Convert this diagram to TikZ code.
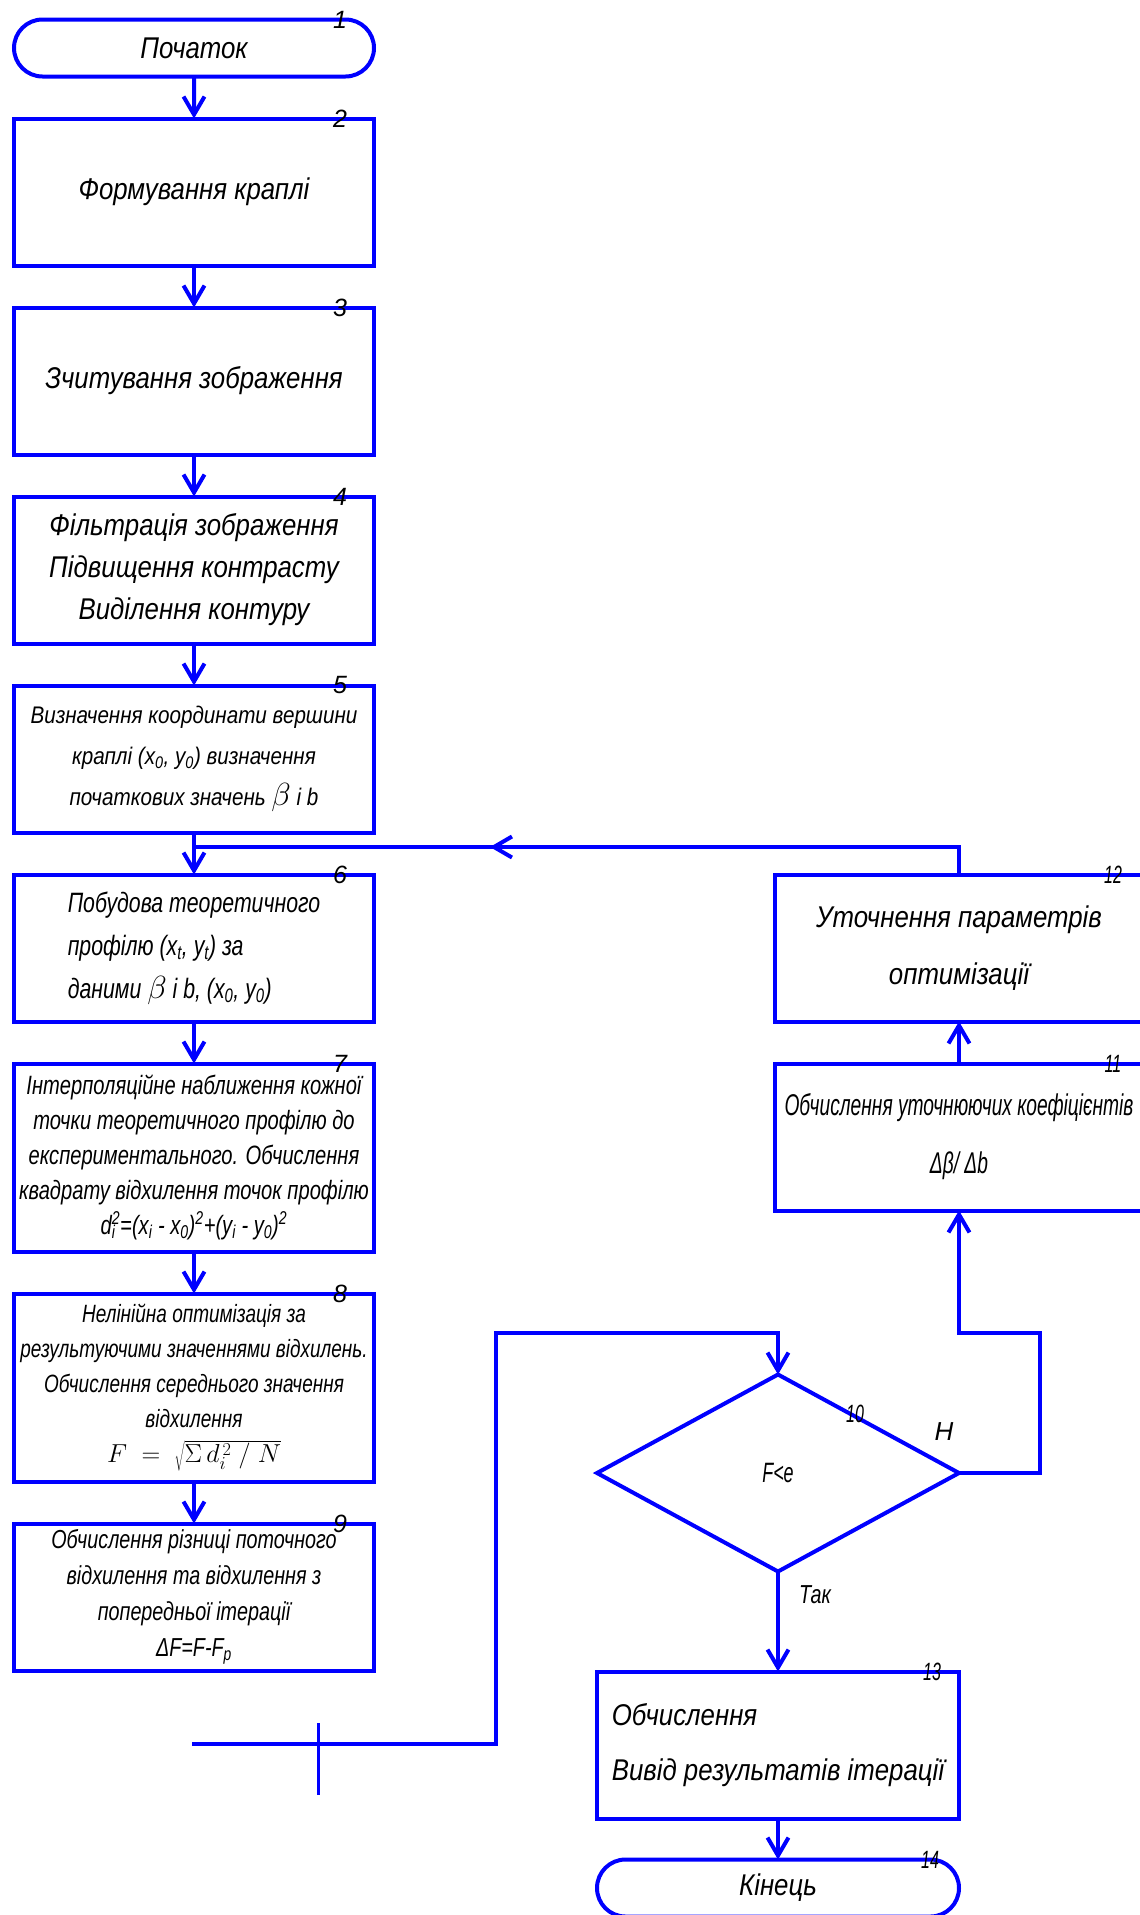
\documentclass[tikz,border=0pt]{standalone}
\usepackage{fix-cm}
\usepackage{fontspec}
\setmainfont{Liberation Sans}
\newfontfamily\widefont[FakeStretch=0.86]{Liberation Sans}
\newfontfamily\narrowfont[FakeStretch=0.76]{Liberation Sans}
\newfontfamily\tightfont[FakeStretch=0.64]{Liberation Sans}
\newcommand{\idxsq}[2]{\rlap{\textsubscript{#1}}\textsuperscript{#2}}
\newcommand{\bigbeta}{{\fontsize{32}{32}\selectfont$\beta$}}
\usetikzlibrary{arrows.meta,positioning,shapes.geometric,shapes.misc}

\begin{document}
\begin{tikzpicture}[x=1pt,y=-1pt,->,>={Straight Barb[length=18pt,width=21pt]},
        line width=4pt,blue,node distance=42pt]
        \tikzstyle{every node}=[inner sep=0pt,outer sep=0pt,text=black]
        \tikzstyle{block}=[rectangle,draw=blue,line width=4pt,minimum width=360pt,minimum height=147pt,align=center]
        \tikzstyle{tall}=[minimum height=188pt]
        \tikzstyle{term}=[rounded rectangle,draw=blue,line width=4pt,minimum width=360pt,minimum height=57pt]
        \tikzstyle{cond}=[diamond,draw=blue,line width=4pt,minimum width=362pt,minimum height=197pt]
        \tikzstyle{bigtxt}=[font=\widefont\fontsize{30}{42}\selectfont\itshape]
        \tikzstyle{numlbl}=[font=\fontsize{25}{25}\selectfont\itshape]
        \tikzstyle{twonum}=[font=\tightfont\fontsize{25}{25}\selectfont\itshape]
        \tikzstyle{wire}=[-]

        \useasboundingbox (0,0) rectangle (1140,1915);
        \clip (0,0) rectangle (1140,1915);

        % main column
        \node[term,bigtxt]              (start) at (194,48)       {Початок};
        \node[block,bigtxt]             (b2) [below=of start]     {Формування краплі};
        \node[block,bigtxt]             (b3) [below=of b2]        {Зчитування зображення};
        \node[block,bigtxt]             (b4) [below=of b3]        {Фільтрація зображення\\ Підвищення контрасту\\ Виділення контуру};
        \node[block,font=\widefont\fontsize{24}{41}\selectfont\itshape]
                                        (b5) [below=of b4]        {Визначення координати вершини\\ краплі (x\textsubscript{0}, y\textsubscript{0}) визначення\\ початкових значень \bigbeta{} і b};
        \node[block,align=left,font=\narrowfont\fontsize{28}{43}\selectfont\itshape]
                                        (b6) [below=of b5]        {Побудова теоретичного\\ профілю (x\textsubscript{t}, y\textsubscript{t}) за\\ даними \bigbeta{} і b, (x\textsubscript{0}, y\textsubscript{0})};
        \node[block,tall,font=\narrowfont\fontsize{26.5}{35}\selectfont\itshape]
                                        (b7) [below=of b6]        {Інтерполяційне наближення кожної\\ точки теоретичного профілю до\\ експериментального. Обчислення\\ квадрату відхилення точок профілю\\ d\idxsq{i}{2}=(x\textsubscript{i} - x\textsubscript{0})\textsuperscript{2}+(y\textsubscript{i} - y\textsubscript{0})\textsuperscript{2}};
        \node[block,tall,font=\narrowfont\fontsize{25}{35}\selectfont\itshape]
                                        (b8) [below=of b7]        {Нелінійна оптимізація за\\ результуючими значеннями відхилень.\\ Обчислення середнього значення\\ відхилення\\ {\fontsize{26}{37}\selectfont $F \;=\; \sqrt{\Sigma\, d_i^{\,2} \;/\; N}$}};
        \node[block,font=\narrowfont\fontsize{26}{36}\selectfont\itshape]
                                        (b9) [below=of b8]        {Обчислення різниці поточного\\ відхилення та відхилення з\\ попередньої ітерації\\ ΔF=F-F\textsubscript{p}};

        % right column
        \node[block,minimum width=368pt,font=\widefont\fontsize{30}{57}\selectfont\itshape]
                                        (b12) [right=401pt of b6] {Уточнення параметрів\\ оптимізації};
        \node[block,minimum width=368pt,font=\tightfont\fontsize{30}{58}\selectfont\itshape]
                                        (b11) [below=of b12]      {Обчислення уточнюючих коефіцієнтів\\ Δβ/ Δb};
        \node[cond,font=\tightfont\fontsize{28}{28}\selectfont\itshape]
                                        (dia) at (778,1473)       {F<e};
        \node[block,minimum width=362pt,align=left,font=\widefont\fontsize{30}{55}\selectfont\itshape]
                                        (b13) [below=100pt of dia] {Обчислення\\ Вивід результатів ітерації};
        \node[term,minimum width=362pt,bigtxt]
                                        (b14) [below=41pt of b13] {Кінець};

        % block numbers
        \node[numlbl] (n1)  at ([xshift=146pt]start.north)     {1};
        \node[numlbl] (n2)  at ([xshift=-34pt]b2.north east)   {2};
        \node[numlbl] (n3)  at ([xshift=-34pt]b3.north east)   {3};
        \node[numlbl] (n4)  at ([xshift=-34pt]b4.north east)   {4};
        \node[numlbl] (n5)  at ([xshift=-34pt]b5.north east)   {5};
        \node[numlbl] (n6)  at ([xshift=-34pt]b6.north east)   {6};
        \node[numlbl] (n7)  at ([xshift=-34pt]b7.north east)   {7};
        \node[numlbl] (n8)  at ([xshift=-34pt]b8.north east)   {8};
        \node[numlbl] (n9)  at ([xshift=-34pt]b9.north east)   {9};
        \node[twonum] (n10) at ([shift={(77,-59)}]dia.center)  {10};
        \node[twonum] (n11) at ([xshift=-30pt]b11.north east)  {11};
        \node[twonum] (n12) at ([xshift=-30pt]b12.north east)  {12};
        \node[twonum] (n13) at ([xshift=-27pt]b13.north east)  {13};
        \node[twonum] (n14) at ([xshift=152pt]b14.north)       {14};
        \node[font=\fontsize{26}{26}\selectfont\itshape] (no)  at ([shift={(-15,-41)}]dia.east)  {Н};
        \node[font=\narrowfont\fontsize{26}{26}\selectfont\itshape] (yes) at ([shift={(37,23)}]dia.south) {Так};

        % free ends
        \coordinate (jn)    at (194,847);
        \coordinate (fbtip) at (490,847);
        \coordinate (loose) at (192,1744);
        \coordinate (ret)   at (496,1333);
        \coordinate (nloop) at (1040,1333);
        \coordinate (tka)   at (318,1723);
        \coordinate (tkb)   at (318,1795);

        \draw (start) -- (b2);
        \draw (b2) -- (b3);
        \draw (b3) -- (b4);
        \draw (b4) -- (b5);
        \draw (b5) -- (b6);
        \draw (b6) -- (b7);
        \draw (b7) -- (b8);
        \draw (b8) -- (b9);
        \draw[wire] (b12.north) |- (jn);
        \draw (b12.north) |- (fbtip);
        \draw (b11) -- (b12);
        \draw (dia.east) -| (nloop) -| (b11.south);
        \draw (loose) -| (ret) -| (dia.north);
        \draw[wire,line width=3pt] (tka) -- (tkb);
        \draw (dia) -- (b13);
        \draw (b13) -- (b14);
\end{tikzpicture}
\end{document}
